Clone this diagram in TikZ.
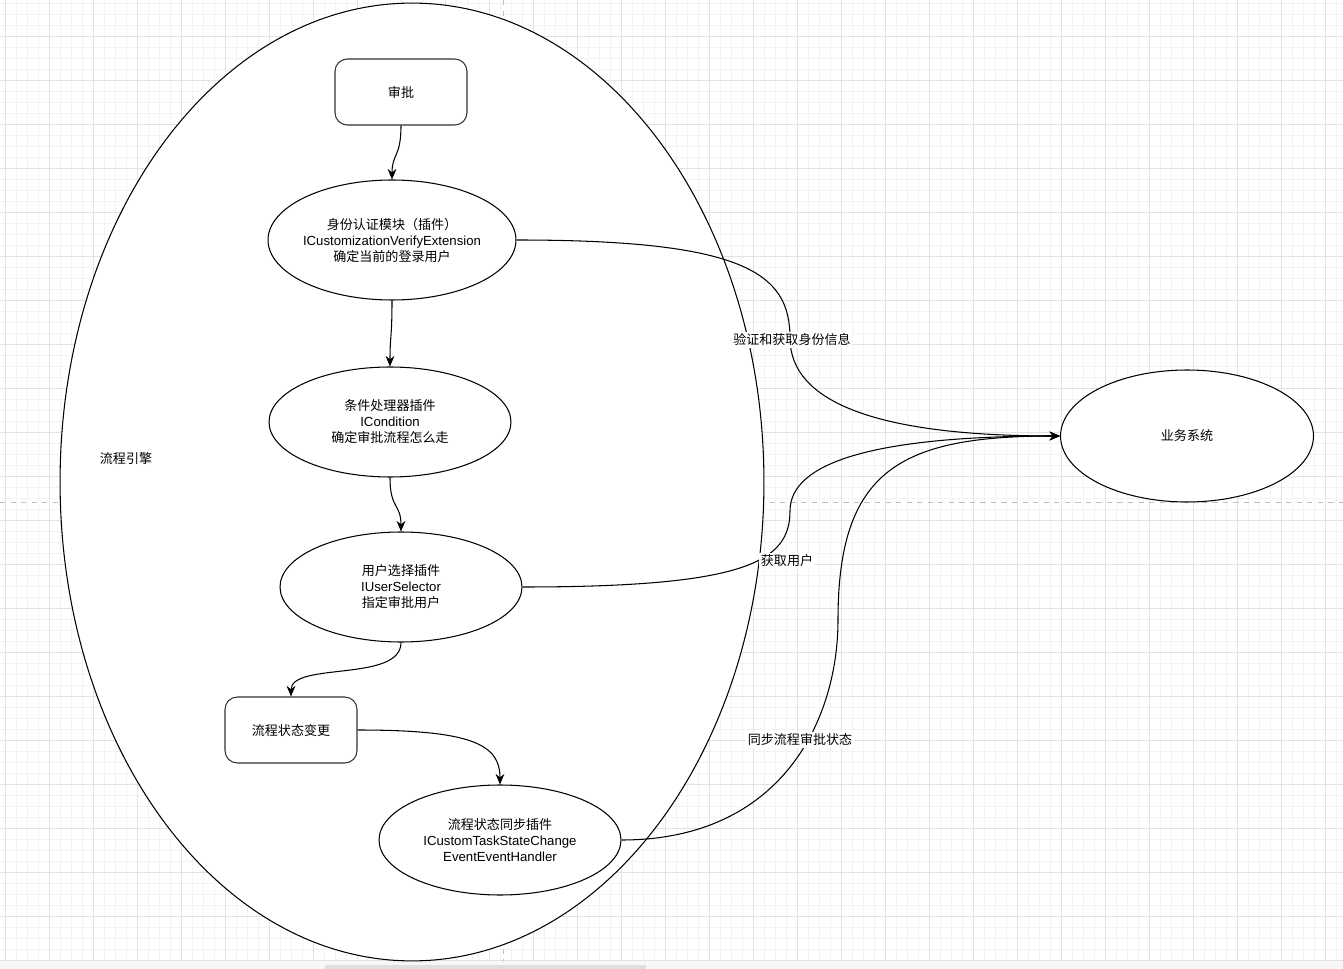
\documentclass[tikz,border=0pt]{standalone}
\usepackage{fontspec}
\setmainfont{Liberation Sans}
\newfontfamily\cjk[Scale=0.99]{Noto Sans CJK SC}
\usetikzlibrary{arrows.meta,positioning,shapes.geometric}
\definecolor{gridminor}{HTML}{F3F3F3}
\definecolor{gridmajor}{HTML}{E2E2E2}
\tikzset{
  box/.style={draw=black!80,rectangle,rounded corners=7pt,minimum width=2.64cm,minimum height=1.32cm,fill=white,align=center,line width=0.6pt},
  plug/.style={draw,ellipse,fill=white,align=center,line width=0.6pt,inner sep=0pt,minimum width=4.84cm,minimum height=2.2cm},
  arr/.style={-{Stealth[length=6pt,width=5pt,inset=2pt]},line width=0.6pt},
  lbl/.style={fill=white,inner sep=1pt},
  minorln/.style={gridminor,line width=0.5pt},
  majorln/.style={gridmajor,line width=0.5pt},
  pagebrk/.style={gray!50,dashed,line width=0.5pt}
}

\begin{document}
\begin{tikzpicture}[x=0.02cm,y=-0.02cm,font=\fontsize{7.5pt}{9.1pt}\selectfont]
  \useasboundingbox (0,0) rectangle (1343,969);
  % canvas grid
  \fill[white] (0,0) rectangle (1343,969);
  \foreach \gx in {5,16,...,1343} \draw[minorln] (\gx,0) -- (\gx,961);
  \foreach \gy in {3,14,...,961} \draw[minorln] (0,\gy) -- (1343,\gy);
  \foreach \gx in {5,49,...,1343} \draw[majorln] (\gx,0) -- (\gx,961);
  \foreach \gy in {36,80,...,961} \draw[majorln] (0,\gy) -- (1343,\gy);
  \draw[pagebrk] (0,502) -- (1343,502);
  \draw[pagebrk] (503,0) -- (503,961);
  \fill[gray!6] (0,961) rectangle (1343,969);
  \fill[gray!25] (325,965) rectangle (646,969);

  % Engine container
  \node[draw,ellipse,fill=white,line width=0.6pt,minimum width=14.08cm,minimum height=19.16cm] (engine) at (412,482) {};
  \node (enginelbl) at (126,459) {\cjk 流程引擎};

  % Steps
  \node[box] (approve) at (401,92) {\cjk 审批};
  \node[plug,minimum width=4.96cm,minimum height=2.4cm,inner xsep=-4pt] (auth) at (392,240) {{\cjk 身份认证模块（插件）}\\ICustomizationVerifyExtension\\{\cjk 确定当前的登录用户}};
  \node[plug] (cond) at (390,422) {{\cjk 条件处理器插件}\\ICondition\\{\cjk 确定审批流程怎么走}};
  \node[plug] (usersel) at (401,587) {{\cjk 用户选择插件}\\IUserSelector\\{\cjk 指定审批用户}};
  \node[box] (change) at (291,730) {\cjk 流程状态变更};
  \node[plug] (sync) at (500,840) {{\cjk 流程状态同步插件}\\ICustomTaskStateChange\\EventEventHandler};

  % Business system
  \node[plug,minimum width=5.06cm,minimum height=2.64cm] (biz) at (1187,436) {\cjk 业务系统};

  % Flow inside engine
  \draw[arr] (approve.south) .. controls +(0,32) and +(0,-26) .. (auth.north);
  \draw[arr] (auth.south) .. controls +(0,38) and +(0,-32) .. (cond.north);
  \draw[arr] (cond.south) .. controls +(0,32) and +(0,-28) .. (usersel.north);
  \draw[arr] (usersel.south) .. controls +(0,40) and +(0,-35) .. (change.north);
  \draw[arr] (change.east) .. controls +(115,0) and +(0,-40) .. (sync.north);

  % Calls to business system
  \coordinate (k1) at (790,338);
  \coordinate (k2) at (790,511);
  \coordinate (k3) at (838,620);
  \draw[arr] (auth.east) .. controls +(228,0) and +(0,-65) .. (k1) .. controls +(0,65) and +(-181,0) .. (biz.west);
  \draw[arr] (usersel.east) .. controls +(222,0) and +(0,51) .. (k2) .. controls +(0,-50) and +(-181,0) .. (biz.west);
  \draw[arr] (sync.east) .. controls +(160,0) and +(0,100) .. (k3) .. controls +(0,-150) and +(-160,0) .. (biz.west);

  % Edge labels
  \node[lbl] (authlbl) at (792,340) {\cjk 验证和获取身份信息};
  \node[lbl] (userlbl) at (787,561) {\cjk 获取用户};
  \node[lbl] (synclbl) at (800,740) {\cjk 同步流程审批状态};
\end{tikzpicture}
\end{document}
